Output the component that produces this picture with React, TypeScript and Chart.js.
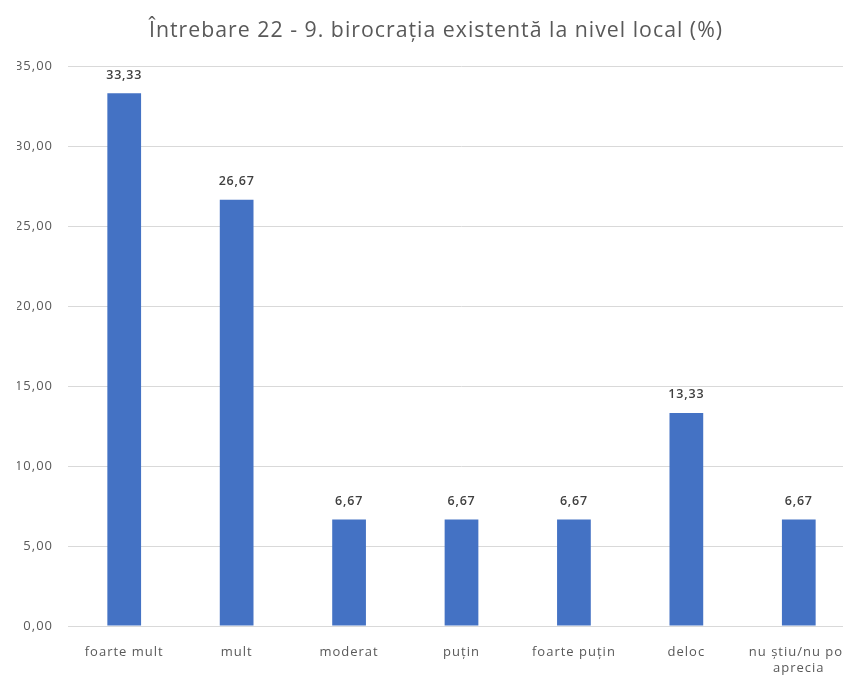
import React, { useEffect, useRef } from "react";
import { Chart, registerables } from "chart.js";

Chart.register(...registerables);

const titleText = "Întrebare 22 - 9. birocrația existentă la nivel local (%)";
const categories: (string | string[])[] = [
  "foarte mult",
  "mult",
  "moderat",
  "puțin",
  "foarte puțin",
  "deloc",
  ["nu știu/nu pot", "aprecia"],
];
const values = [33.33, 26.67, 6.67, 6.67, 6.67, 13.33, 6.67];
const yMin = 0;
const yMax = 35;
const yStep = 5;

const fmt = (v: number) => v.toFixed(2).replace(".", ",");

const FONT = "'Open Sans', 'Noto Sans', sans-serif";

const spacing = {
  id: "spacing",
  beforeUpdate(chart: any) {
    chart.ctx.letterSpacing = "1px";
  },
  beforeLayout(chart: any) {
    chart.ctx.letterSpacing = "1px";
  },
  beforeDraw(chart: any) {
    chart.ctx.letterSpacing = "1px";
  },
};

const valueLabels = {
  id: "valueLabels",
  afterDatasetsDraw(chart: any) {
    const ctx = chart.ctx;
    const meta = chart.getDatasetMeta(0);
    ctx.save();
    ctx.letterSpacing = "0.8px";
    ctx.font = `600 12.5px ${FONT}`;
    ctx.fillStyle = "#404040";
    ctx.textAlign = "center";
    ctx.textBaseline = "middle";
    meta.data.forEach((bar: any, i: number) => {
      ctx.fillText(fmt(values[i]), bar.x, bar.y - 18);
    });
    ctx.restore();
  },
};

export default function App() {
  const ref = useRef<HTMLCanvasElement>(null);
  useEffect(() => {
    if (!ref.current) return;
    const chart = new Chart(ref.current, {
      type: "bar",
      data: {
        labels: categories,
        datasets: [
          {
            data: values,
            backgroundColor: "#4472C4",
            barPercentage: 0.3,
            categoryPercentage: 1,
          },
        ],
      },
      options: {
        animation: false,
        responsive: false,
        devicePixelRatio: 1,
        layout: { padding: { left: 17, right: 17, top: 0, bottom: 0 } },
        plugins: {
          legend: { display: false },
          tooltip: { enabled: false },
          title: {
            display: true,
            text: titleText,
            color: "#595959",
            font: { family: FONT, size: 21.3, weight: "normal" },
            padding: { top: 18, bottom: 23 },
          },
        },
        scales: {
          x: {
            grid: { display: false },
            border: { display: true, color: "#d9d9d9" },
            ticks: {
              color: "#595959",
              font: { family: FONT, size: 13, lineHeight: 1.25 },
              maxRotation: 0,
              autoSkip: false,
              padding: 10,
            },
            afterFit: (s: any) => {
              s.height = 51;
            },
          },
          y: {
            min: yMin,
            max: yMax,
            grid: { color: "#d9d9d9", drawTicks: false },
            border: { display: false },
            ticks: {
              stepSize: yStep,
              color: "#595959",
              font: { family: FONT, size: 13 },
              padding: 15,
              callback: (v: any) => fmt(Number(v)),
            },
            afterFit: (s: any) => {
              s.width = 51;
            },
          },
        },
      },
      plugins: [spacing, valueLabels],
    });
    return () => chart.destroy();
  }, []);
  return (
    <div
      style={{
        position: "fixed",
        left: 0,
        top: 0,
        width: 843,
        height: 677,
        overflow: "hidden",
        background: "#fff",
      }}
    >
      <canvas ref={ref} width={872} height={677} style={{ display: "block" }} />
    </div>
  );
}
